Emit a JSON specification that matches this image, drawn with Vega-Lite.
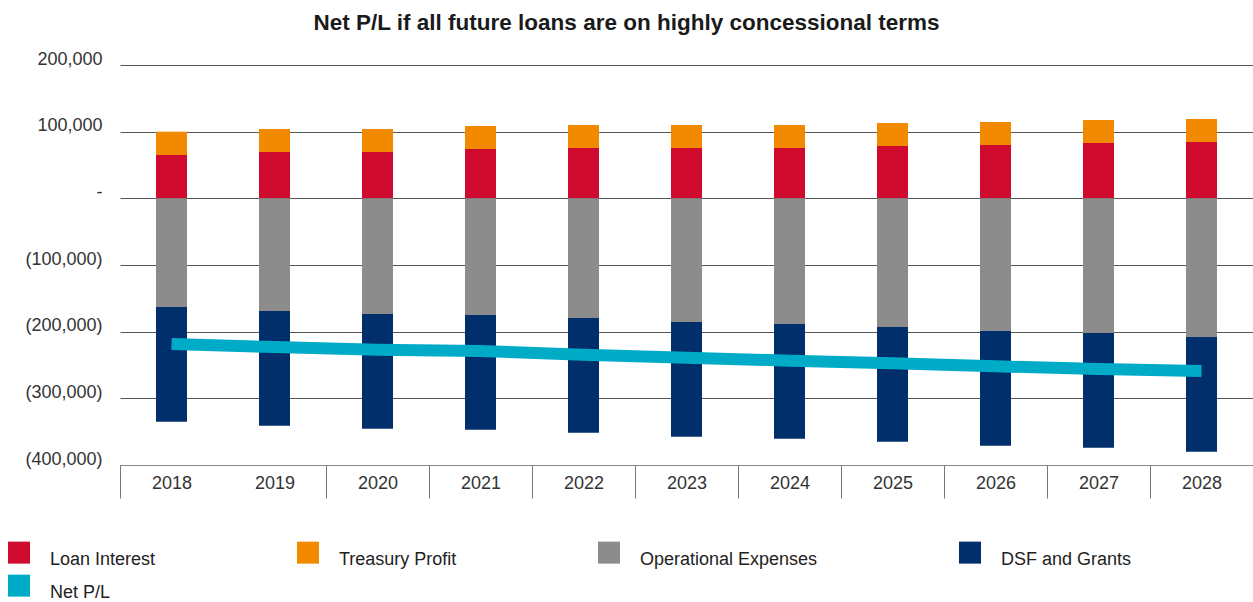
{
  "$schema": "https://vega.github.io/schema/vega-lite/v6.json",
  "width": 1133,
  "height": 400,
  "autosize": {"type": "none"},
  "padding": {"left": 120, "top": 65, "right": 0, "bottom": 137},
  "background": "white",
  "title": {
    "text": "Net P/L if all future loans are on highly concessional terms",
    "anchor": "middle",
    "dx": -60,
    "offset": 16,
    "fontSize": 22.5,
    "font": "Liberation Sans",
    "fontWeight": "bold",
    "color": "#1a1a1a"
  },
  "config": {"view": {"stroke": null}},
  "data": {
    "values": [
      {"year": "2018", "series": "Loan Interest", "value": 65000},
      {"year": "2019", "series": "Loan Interest", "value": 69500},
      {"year": "2020", "series": "Loan Interest", "value": 69500},
      {"year": "2021", "series": "Loan Interest", "value": 74000},
      {"year": "2022", "series": "Loan Interest", "value": 75500},
      {"year": "2023", "series": "Loan Interest", "value": 75500},
      {"year": "2024", "series": "Loan Interest", "value": 75500},
      {"year": "2025", "series": "Loan Interest", "value": 78500},
      {"year": "2026", "series": "Loan Interest", "value": 80000},
      {"year": "2027", "series": "Loan Interest", "value": 83000},
      {"year": "2028", "series": "Loan Interest", "value": 84500},
      {"year": "2018", "series": "Treasury Profit", "value": 35000},
      {"year": "2019", "series": "Treasury Profit", "value": 34500},
      {"year": "2020", "series": "Treasury Profit", "value": 34500},
      {"year": "2021", "series": "Treasury Profit", "value": 34500},
      {"year": "2022", "series": "Treasury Profit", "value": 34500},
      {"year": "2023", "series": "Treasury Profit", "value": 34500},
      {"year": "2024", "series": "Treasury Profit", "value": 34500},
      {"year": "2025", "series": "Treasury Profit", "value": 34500},
      {"year": "2026", "series": "Treasury Profit", "value": 34500},
      {"year": "2027", "series": "Treasury Profit", "value": 34500},
      {"year": "2028", "series": "Treasury Profit", "value": 34500},
      {"year": "2018", "series": "Operational Expenses", "value": -163000},
      {"year": "2019", "series": "Operational Expenses", "value": -169000},
      {"year": "2020", "series": "Operational Expenses", "value": -173500},
      {"year": "2021", "series": "Operational Expenses", "value": -175000},
      {"year": "2022", "series": "Operational Expenses", "value": -179500},
      {"year": "2023", "series": "Operational Expenses", "value": -185500},
      {"year": "2024", "series": "Operational Expenses", "value": -188500},
      {"year": "2025", "series": "Operational Expenses", "value": -193000},
      {"year": "2026", "series": "Operational Expenses", "value": -199000},
      {"year": "2027", "series": "Operational Expenses", "value": -202000},
      {"year": "2028", "series": "Operational Expenses", "value": -208000},
      {"year": "2018", "series": "DSF and Grants", "value": -172000},
      {"year": "2019", "series": "DSF and Grants", "value": -172000},
      {"year": "2020", "series": "DSF and Grants", "value": -172000},
      {"year": "2021", "series": "DSF and Grants", "value": -172000},
      {"year": "2022", "series": "DSF and Grants", "value": -172000},
      {"year": "2023", "series": "DSF and Grants", "value": -172000},
      {"year": "2024", "series": "DSF and Grants", "value": -172000},
      {"year": "2025", "series": "DSF and Grants", "value": -172000},
      {"year": "2026", "series": "DSF and Grants", "value": -172000},
      {"year": "2027", "series": "DSF and Grants", "value": -172000},
      {"year": "2028", "series": "DSF and Grants", "value": -172000},
      {"year": "2018", "series": "Net P/L", "value": -218500},
      {"year": "2019", "series": "Net P/L", "value": -223000},
      {"year": "2020", "series": "Net P/L", "value": -227000},
      {"year": "2021", "series": "Net P/L", "value": -229000},
      {"year": "2022", "series": "Net P/L", "value": -234500},
      {"year": "2023", "series": "Net P/L", "value": -239000},
      {"year": "2024", "series": "Net P/L", "value": -243500},
      {"year": "2025", "series": "Net P/L", "value": -247500},
      {"year": "2026", "series": "Net P/L", "value": -252000},
      {"year": "2027", "series": "Net P/L", "value": -256000},
      {"year": "2028", "series": "Net P/L", "value": -259000}
    ]
  },
  "encoding": {
    "x": {
      "field": "year",
      "type": "ordinal",
      "scale": {"paddingInner": 0, "paddingOuter": 0},
      "axis": {
        "title": null,
        "labelAngle": 0,
        "labelFont": "Liberation Sans",
        "labelFontSize": 18,
        "labelColor": "#333333",
        "labelBaseline": "middle",
        "labelPadding": -15,
        "tickBand": "extent",
        "tickSize": 33,
        "tickColor": "#777777",
        "tickOpacity": {"condition": {"test": "datum.value === '2018'", "value": 0}, "value": 1},
        "domainColor": "#888888",
        "grid": false
      }
    },
    "y": {
      "field": "value",
      "type": "quantitative",
      "scale": {"domain": [-400000, 200000], "nice": false},
      "axis": {
        "title": null,
        "values": [-400000, -300000, -200000, -100000, 0, 100000, 200000],
        "labelExpr": "datum.value == 0 ? '-' : (datum.value < 0 ? '(' + format(-datum.value, ',') + ')' : format(datum.value, ','))",
        "domain": false,
        "ticks": false,
        "labelPadding": 18,
        "labelFont": "Liberation Sans",
        "labelFontSize": 18,
        "labelColor": "#333333",
        "labelOffset": -6,
        "gridColor": "#555555",
        "gridWidth": 1
      }
    }
  },
  "layer": [
    {
      "transform": [{"filter": "datum.series === 'Loan Interest' || datum.series === 'Treasury Profit'"}],
      "mark": {"type": "bar", "size": 31},
      "encoding": {
        "y": {"field": "value", "type": "quantitative", "stack": "zero"},
        "color": {
          "field": "series",
          "type": "nominal",
          "scale": {
            "domain": ["Loan Interest", "Treasury Profit", "Operational Expenses", "DSF and Grants", "Net P/L"],
            "range": ["#CE0A2E", "#F28A00", "#8B8C8B", "#002F6C", "#00ABC8"]
          },
          "legend": {
            "title": null,
            "orient": "none",
            "legendX": -112,
            "legendY": 484,
            "direction": "horizontal",
            "columns": 4,
            "columnPadding": 141,
            "rowPadding": 5,
            "padding": 0,
            "symbolType": "M-1,-1.67H1V0.33H-1Z",
            "symbolSize": 484,
            "symbolStrokeWidth": 0,
            "labelOffset": 20,
            "labelFont": "Liberation Sans",
            "labelFontSize": 18,
            "labelColor": "#222222",
            "labelLimit": 400
          }
        },
        "order": {"field": "series", "sort": "ascending"}
      }
    },
    {
      "transform": [{"filter": "datum.series === 'Operational Expenses' || datum.series === 'DSF and Grants'"}],
      "mark": {"type": "bar", "size": 31},
      "encoding": {
        "y": {"field": "value", "type": "quantitative", "stack": "zero"},
        "color": {"field": "series", "type": "nominal"},
        "order": {"field": "series", "sort": "descending"}
      }
    },
    {
      "transform": [{"filter": "datum.series === 'Net P/L'"}],
      "mark": {"type": "line", "color": "#00ABC8", "strokeWidth": 12, "strokeCap": "butt"},
      "encoding": {
        "y": {"field": "value", "type": "quantitative"}
      }
    }
  ]
}
